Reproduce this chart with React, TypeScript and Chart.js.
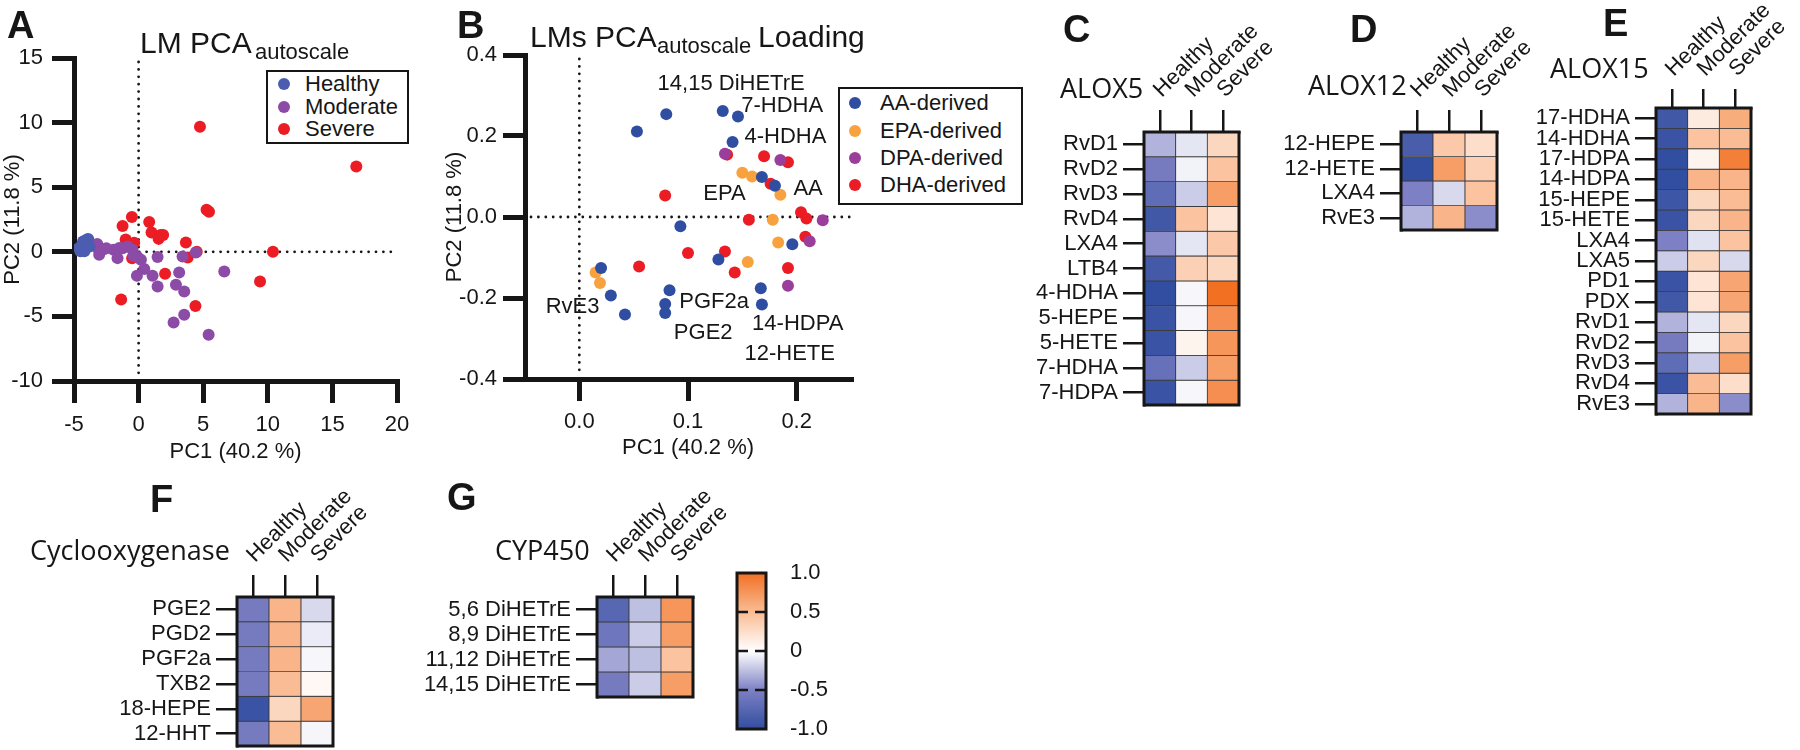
import React, { useEffect, useRef } from 'react';
import { Chart, registerables } from 'chart.js';

Chart.register(...registerables);

const FONT = "'Liberation Sans', Arial, Helvetica, sans-serif";
const HEAD_FONT = "'Open Sans', 'Noto Sans', sans-serif";
const INK = '#161616';
Chart.defaults.font.family = FONT;
Chart.defaults.color = INK;

// ---------------- Panel A: LM PCA (scores) ----------------
const scoreGroups = ['Healthy', 'Moderate', 'Severe'];
const healthyPC1 = [-4.6, -4.5, -4.4, -4.3, -4.2, -4.1, -4.0, -3.9, -4.5, -4.2, -4.0, -4.3, -3.8, -4.4];
const healthyPC2 = [0.3, 0.1, 0.5, 0.2, 0.7, 0.4, 0.95, 1.0, 0.05, 0.05, 0.6, 0.8, 0.4, 0.15];
const moderatePC1 = [-3.3, -3.05, -2.5, -1.94, -1.63, -1.24, -0.85, -0.47, -0.08, 0.18, 1.47, 3.4, 4.43, 6.63, 0.44, -0.13, 1.08, 1.47, 3.14, 2.89, 3.53, 3.53, 2.71, 5.42, -3.2, -2.7, -0.4, -1.5];
const moderatePC2 = [0.41, -0.23, 0.28, 0.15, -0.49, 0.28, 0.41, 0.15, -0.41, -0.62, -0.41, -0.36, -0.05, -1.52, -1.34, -1.86, -1.86, -2.68, -1.6, -2.55, -3.07, -4.88, -5.47, -6.42, 0.6, 0.2, -0.3, 0.3];
const severePC1 = [4.75, 16.85, 5.26, 5.45, 10.4, 9.4, 4.4, -1.35, 2.05, 3.66, 3.8, 4.5, 0.82, 1.0, 1.7, 1.9, 1.55, -0.52, -1.24, -1.0, -0.34, -0.5];
const severePC2 = [9.67, 6.6, 3.25, 3.1, 0.0, -2.3, -4.2, -3.7, -1.7, 0.72, -0.45, 0.0, 2.3, 1.5, 1.3, 1.3, 1.0, 2.7, 2.0, 0.95, 0.7, -0.5];
const scoreXTicks = [-5, 0, 5, 10, 15, 20];
const scoreYTicks = [-10, -5, 0, 5, 10, 15];

// ---------------- Panel B: loadings ----------------
const loadingGroups = ['AA-derived', 'EPA-derived', 'DPA-derived', 'DHA-derived'];
const aaPC1 = [0.053, 0.080, 0.132, 0.146, 0.141, 0.168, 0.180, 0.093, 0.196, 0.128, 0.020, 0.029, 0.042, 0.083, 0.079, 0.079, 0.167, 0.168];
const aaPC2 = [0.211, 0.254, 0.262, 0.248, 0.185, 0.099, 0.077, -0.023, -0.067, -0.105, -0.126, -0.194, -0.241, -0.181, -0.215, -0.237, -0.176, -0.216];
const epaPC1 = [0.150, 0.159, 0.185, 0.178, 0.183, 0.155, 0.015, 0.019];
const epaPC2 = [0.109, 0.100, 0.055, -0.007, -0.063, -0.111, -0.137, -0.163];
const dpaPC1 = [0.134, 0.185, 0.224, 0.212, 0.192];
const dpaPC2 = [0.156, 0.141, -0.008, -0.060, -0.170];
const dhaPC1 = [0.136, 0.170, 0.192, 0.079, 0.176, 0.204, 0.209, 0.156, 0.208, 0.134, 0.100, 0.055, 0.143, 0.192];
const dhaPC2 = [0.154, 0.150, 0.135, 0.053, 0.082, 0.012, -0.004, -0.007, -0.049, -0.085, -0.089, -0.122, -0.137, -0.126];
const loadingXTicks = [0, 0.1, 0.2];
const loadingYTicks = [-0.4, -0.2, 0, 0.2, 0.4];
const loadingLabels = ['14,15 DiHETrE', '7-HDHA', '4-HDHA', 'EPA', 'AA', 'RvE3', 'PGF2a', 'PGE2', '14-HDPA', '12-HETE'];
const loadingLabelPC1 = [0.072, 0.149, 0.152, 0.114, 0.197, -0.031, 0.092, 0.087, 0.159, 0.152];
const loadingLabelPC2 = [0.314, 0.260, 0.183, 0.043, 0.055, -0.236, -0.224, -0.300, -0.278, -0.352];

// ---------------- Heatmaps ----------------
const groups = ['Healthy', 'Moderate', 'Severe'];

const alox5Rows = ['RvD1', 'RvD2', 'RvD3', 'RvD4', 'LXA4', 'LTB4', '4-HDHA', '5-HEPE', '5-HETE', '7-HDHA', '7-HDPA'];
const alox5Healthy = [-0.3, -0.55, -0.7, -0.9, -0.45, -0.88, -1.0, -0.95, -0.95, -0.65, -0.95];
const alox5Moderate = [-0.1, -0.05, -0.2, 0.45, -0.1, 0.35, -0.03, -0.03, 0.08, -0.2, -0.03];
const alox5Severe = [0.3, 0.45, 0.7, 0.2, 0.4, 0.3, 1.0, 0.8, 0.75, 0.7, 0.8];

const alox12Rows = ['12-HEPE', '12-HETE', 'LXA4', 'RvE3'];
const alox12Healthy = [-0.85, -1.0, -0.5, -0.3];
const alox12Moderate = [0.4, 0.7, -0.15, 0.55];
const alox12Severe = [0.25, 0.35, 0.45, -0.45];

const alox15Rows = ['17-HDHA', '14-HDHA', '17-HDPA', '14-HDPA', '15-HEPE', '15-HETE', 'LXA4', 'LXA5', 'PD1', 'PDX', 'RvD1', 'RvD2', 'RvD3', 'RvD4', 'RvE3'];
const alox15Healthy = [-0.9, -0.95, -1.0, -1.0, -0.92, -0.95, -0.5, -0.2, -0.95, -0.9, -0.3, -0.55, -0.7, -0.95, -0.3];
const alox15Moderate = [0.15, 0.45, 0.08, 0.55, 0.3, 0.3, -0.12, 0.3, 0.2, 0.2, -0.1, -0.05, -0.2, 0.5, 0.55];
const alox15Severe = [0.6, 0.5, 0.9, 0.55, 0.5, 0.55, 0.45, -0.15, 0.65, 0.65, 0.3, 0.45, 0.7, 0.25, -0.45];

const coxRows = ['PGE2', 'PGD2', 'PGF2a', 'TXB2', '18-HEPE', '12-HHT'];
const coxHealthy = [-0.55, -0.55, -0.55, -0.55, -0.95, -0.55];
const coxModerate = [0.55, 0.55, 0.55, 0.5, 0.3, 0.5];
const coxSevere = [-0.15, -0.08, -0.03, 0.05, 0.65, -0.04];

const cypRows = ['5,6 DiHETrE', '8,9 DiHETrE', '11,12 DiHETrE', '14,15 DiHETrE'];
const cypHealthy = [-0.75, -0.6, -0.35, -0.55];
const cypModerate = [-0.25, -0.2, -0.25, -0.2];
const cypSevere = [0.75, 0.7, 0.45, 0.7];

const colorbarTicks = [-1, -0.5, 0, 0.5, 1];
const colorbarDashes = [-0.5, 0, 0.5];

// ---------------- styles ----------------
const HEALTHY = '#4c5db1';
const MODERATE = '#8b4ba6';
const SEVERE = '#ec1c24';
const AA = '#2f4ea2';
const EPA = '#f7a23e';
const DPA = '#9a3e9c';
const DHA = '#ec1c24';
const scoreColors = [HEALTHY, MODERATE, SEVERE];
const loadingColors = [AA, EPA, DPA, DHA];

const stops: [number, number[]][] = [
  [-1, [50, 78, 160]],
  [-0.5, [125, 128, 196]],
  [0, [255, 255, 255]],
  [0.5, [250, 188, 148]],
  [1, [241, 112, 34]],
];
function cmap(v: number) {
  const t = Math.max(-1, Math.min(1, v));
  for (let i = 0; i < stops.length - 1; i++) {
    const [a, ca] = stops[i];
    const [b, cb] = stops[i + 1];
    if (t >= a && t <= b) {
      const f = (t - a) / (b - a);
      const c = ca.map((x, k) => Math.round(x + (cb[k] - x) * f));
      return `rgb(${c[0]},${c[1]},${c[2]})`;
    }
  }
  return 'rgb(255,255,255)';
}

const baseOpts = {
  animation: false,
  responsive: false,
  devicePixelRatio: 1,
  events: [],
  plugins: { legend: { display: false }, tooltip: { enabled: false } },
};

const fix = (dim: 'width' | 'height', size: number) => (s: any) => {
  s[dim] = size;
  s.paddingLeft = 0;
  s.paddingRight = 0;
  s.paddingTop = 0;
  s.paddingBottom = 0;
};

const zeroLines = {
  id: 'zeroLines',
  beforeDatasetsDraw(chart: any) {
    const { ctx, chartArea: a, scales } = chart;
    const px = scales.x.getPixelForValue(0);
    const py = scales.y.getPixelForValue(0);
    ctx.save();
    ctx.strokeStyle = INK;
    ctx.lineWidth = 2.8;
    ctx.lineCap = 'round';
    ctx.setLineDash([0, 7.4]);
    ctx.beginPath();
    ctx.moveTo(px, a.top + 4);
    ctx.lineTo(px, a.bottom - 3);
    ctx.stroke();
    ctx.beginPath();
    ctx.moveTo(a.left + 6, py);
    ctx.lineTo(a.right, py);
    ctx.stroke();
    ctx.restore();
  },
};

const pointLabels = {
  id: 'pointLabels',
  afterDatasetsDraw(chart: any) {
    const { ctx, scales } = chart;
    ctx.save();
    ctx.font = `22px ${FONT}`;
    ctx.fillStyle = INK;
    ctx.textAlign = 'left';
    ctx.textBaseline = 'alphabetic';
    loadingLabels.forEach((t, i) => {
      ctx.fillText(t, scales.x.getPixelForValue(loadingLabelPC1[i]), scales.y.getPixelForValue(loadingLabelPC2[i]));
    });
    ctx.restore();
  },
};

const frame = {
  id: 'frame',
  afterDatasetsDraw(chart: any) {
    const { ctx, chartArea: a } = chart;
    ctx.save();
    ctx.strokeStyle = INK;
    ctx.lineWidth = 3;
    ctx.strokeRect(a.left, a.top, a.right - a.left, a.bottom - a.top);
    ctx.restore();
  },
};

// rotated column labels, anchored at the top of each column tick
const columnLabels = {
  id: 'columnLabels',
  afterDraw(chart: any) {
    const { ctx, chartArea: a, scales } = chart;
    const x = scales.x;
    const tl = x.options.grid.tickLength;
    ctx.save();
    ctx.font = `22px ${FONT}`;
    ctx.fillStyle = INK;
    ctx.textAlign = 'left';
    ctx.textBaseline = 'alphabetic';
    chart.data.labels.forEach((l: string, i: number) => {
      const px = x.getPixelForValue(i);
      ctx.save();
      ctx.translate(px + 2, a.top - tl - 12);
      ctx.rotate(-Math.PI / 4);
      ctx.fillText(l, 0, 0);
      ctx.restore();
    });
    ctx.restore();
  },
};

const cbDashes = {
  id: 'cbDashes',
  afterDatasetsDraw(chart: any) {
    const { ctx, chartArea: a, scales } = chart;
    ctx.save();
    ctx.strokeStyle = INK;
    ctx.lineWidth = 2.5;
    const w = a.right - a.left;
    const dash = (w - 7) / 2;
    ctx.setLineDash([dash, 7]);
    colorbarDashes.forEach((v) => {
      const y = scales.y.getPixelForValue(v);
      ctx.beginPath();
      ctx.moveTo(a.left, y);
      ctx.lineTo(a.right, y);
      ctx.stroke();
    });
    ctx.restore();
  },
};

function dots(label: string, xs: number[], ys: number[], color: string) {
  return {
    label,
    data: xs.map((x, i) => ({ x, y: ys[i] })),
    backgroundColor: color,
    borderColor: color,
    pointRadius: 6,
    pointBorderWidth: 0,
  };
}

function linAxis(axis: 'x' | 'y', min: number, max: number, tickVals: number[], fmt: (v: number) => string, title: string, size: number, pad: number) {
  return {
    type: 'linear',
    position: axis === 'x' ? 'bottom' : 'left',
    min,
    max,
    afterBuildTicks: (s: any) => {
      s.ticks = tickVals.map((v) => ({ value: v }));
    },
    ticks: { callback: (v: number) => fmt(v), font: { size: 22, family: FONT }, color: INK, padding: pad, autoSkip: false, maxRotation: 0 },
    grid: { drawOnChartArea: false, tickLength: 22, lineWidth: 5, color: INK },
    border: { width: 5, color: INK },
    title: { display: true, text: title, font: { size: 22, family: FONT }, color: INK, padding: 0 },
    afterFit: fix(axis === 'x' ? 'height' : 'width', size),
  };
}

const buildA = () => ({
  type: 'scatter',
  data: {
    datasets: [
      dots(scoreGroups[0], healthyPC1, healthyPC2, HEALTHY),
      dots(scoreGroups[1], moderatePC1, moderatePC2, MODERATE),
      dots(scoreGroups[2], severePC1, severePC2, SEVERE),
    ],
  },
  options: {
    ...baseOpts,
    layout: { padding: { left: 0, top: 58, right: 33, bottom: 0 } },
    scales: {
      x: linAxis('x', -5, 20, scoreXTicks, (v) => String(v), 'PC1 (40.2 %)', 84, 9),
      y: linAxis('y', -10, 15, scoreYTicks, (v) => String(v), 'PC2 (11.8 %)', 74, 9),
    },
  },
  plugins: [zeroLines],
});

const buildB = () => ({
  type: 'scatter',
  data: {
    datasets: [
      dots(loadingGroups[0], aaPC1, aaPC2, AA),
      dots(loadingGroups[1], epaPC1, epaPC2, EPA),
      dots(loadingGroups[2], dpaPC1, dpaPC2, DPA),
      dots(loadingGroups[3], dhaPC1, dhaPC2, DHA),
    ],
  },
  options: {
    ...baseOpts,
    layout: { padding: { left: 0, top: 55, right: 11, bottom: 0 } },
    scales: {
      x: linAxis('x', -0.05, 0.25, loadingXTicks, (v) => v.toFixed(1), 'PC1 (40.2 %)', 82, 8),
      y: linAxis('y', -0.4, 0.4, loadingYTicks, (v) => v.toFixed(1), 'PC2 (11.8 %)', 83, 6),
    },
  },
  plugins: [zeroLines, pointLabels],
});

function buildHeat(spec: any) {
  const { rows, healthy, moderate, severe, left, top, width, height, area, colTick } = spec;
  const [x0, y0, x1, y1] = area;
  const cols = [healthy, moderate, severe];
  return () => ({
    type: 'bar',
    data: {
      labels: groups,
      datasets: rows.map((r: string, i: number) => ({
        label: r,
        data: groups.map(() => [i, i + 1]),
        backgroundColor: cols.map((c: number[]) => cmap(c[i])),
        borderColor: '#3c3c3c',
        borderWidth: 0.8,
        borderSkipped: false,
        grouped: false,
        barPercentage: 1,
        categoryPercentage: 1,
      })),
    },
    options: {
      ...baseOpts,
      layout: { padding: { left: 0, top: 0, right: left + width - x1, bottom: top + height - y1 } },
      scales: {
        x: {
          type: 'category',
          position: 'top',
          offset: true,
          grid: { offset: false, drawOnChartArea: false, tickLength: colTick, lineWidth: 2.5, color: INK },
          border: { width: 3, color: INK },
          ticks: { display: false, autoSkip: false },
          afterFit: fix('height', y0 - top),
        },
        y: {
          type: 'linear',
          position: 'left',
          reverse: true,
          min: 0,
          max: rows.length,
          afterBuildTicks: (s: any) => {
            s.ticks = rows.map((_: string, i: number) => ({ value: i + 0.5 }));
          },
          ticks: { autoSkip: false, callback: (_v: number, i: number) => rows[i], font: { size: 22, family: FONT }, color: INK, padding: 5 },
          grid: { drawOnChartArea: false, tickLength: 21, lineWidth: 2.5, color: INK },
          border: { width: 3, color: INK },
          afterFit: fix('width', x0 - left),
        },
      },
    },
    plugins: [frame, columnLabels],
  });
}

const heatC = { rows: alox5Rows, healthy: alox5Healthy, moderate: alox5Moderate, severe: alox5Severe, left: 1010, top: 0, width: 290, height: 420, area: [1144, 132, 1239, 405], colTick: 22 };
const heatD = { rows: alox12Rows, healthy: alox12Healthy, moderate: alox12Moderate, severe: alox12Severe, left: 1270, top: 0, width: 260, height: 260, area: [1401, 132, 1497, 230], colTick: 22 };
const heatE = { rows: alox15Rows, healthy: alox15Healthy, moderate: alox15Moderate, severe: alox15Severe, left: 1530, top: 0, width: 270, height: 430, area: [1656, 108, 1751, 414], colTick: 19 };
const heatF = { rows: coxRows, healthy: coxHealthy, moderate: coxModerate, severe: coxSevere, left: 0, top: 470, width: 380, height: 280, area: [237, 597, 333, 746], colTick: 22 };
const heatG = { rows: cypRows, healthy: cypHealthy, moderate: cypModerate, severe: cypSevere, left: 410, top: 470, width: 320, height: 240, area: [597, 597, 693, 697], colTick: 22 };

const buildColorbar = () => ({
  type: 'bar',
  data: {
    labels: [''],
    datasets: [
      {
        data: [[-1, 1]],
        backgroundColor: (c: any) => {
          const ch = c.chart;
          const a = ch.chartArea;
          if (!a) return cmap(0);
          const g = ch.ctx.createLinearGradient(0, a.bottom, 0, a.top);
          for (let k = 0; k <= 20; k++) g.addColorStop(k / 20, cmap(-1 + (2 * k) / 20));
          return g;
        },
        borderWidth: 0,
        barPercentage: 1,
        categoryPercentage: 1,
      },
    ],
  },
  options: {
    ...baseOpts,
    layout: { padding: { left: 17, top: 23, right: 0, bottom: 21 } },
    scales: {
      x: { type: 'category', display: false, offset: true },
      y: {
        type: 'linear',
        position: 'right',
        min: -1,
        max: 1,
        afterBuildTicks: (s: any) => {
          s.ticks = colorbarTicks.map((v) => ({ value: v }));
        },
        ticks: { callback: (v: number) => (v === 0 ? '0' : v.toFixed(1)), font: { size: 22, family: FONT }, color: INK, padding: 24, autoSkip: false },
        grid: { drawOnChartArea: false, drawTicks: false, tickLength: 0 },
        border: { display: false },
        afterFit: fix('width', 74),
      },
    },
  },
  plugins: [frame, cbDashes],
});

function ChartCanvas({ left, top, width, height, build }: any) {
  const ref = useRef<HTMLCanvasElement | null>(null);
  useEffect(() => {
    if (!ref.current) return;
    const chart = new Chart(ref.current, build() as any);
    return () => chart.destroy();
  }, []);
  return (
    <div style={{ position: 'absolute', left, top, width, height }}>
      <canvas ref={ref} width={width} height={height} style={{ display: 'block', width, height }} />
    </div>
  );
}

function Txt({ x, base, size, family = FONT, weight = 400, children }: any) {
  const k = family === HEAD_FONT ? 0.888 : 0.8465;
  return (
    <div
      style={{
        position: 'absolute',
        left: x,
        top: base - k * size,
        fontSize: size,
        fontFamily: family,
        fontWeight: weight,
        lineHeight: 1,
        whiteSpace: 'nowrap',
        color: INK,
      }}
    >
      {children}
    </div>
  );
}

function Legend({ left, top, width, height, labels, colors, markerX, rowYs, textX }: any) {
  return (
    <div style={{ position: 'absolute', left, top, width, height, border: `2px solid ${INK}`, boxSizing: 'border-box', background: '#fff' }}>
      {labels.map((l: string, i: number) => (
        <React.Fragment key={l}>
          <div
            style={{
              position: 'absolute',
              left: markerX - left - 2 - 6,
              top: rowYs[i] - top - 2 - 6,
              width: 12,
              height: 12,
              borderRadius: 6,
              background: colors[i],
            }}
          />
          <div
            style={{
              position: 'absolute',
              left: textX - left - 2,
              top: rowYs[i] + 8 - 0.8465 * 22 - top - 2,
              fontSize: 22,
              fontFamily: FONT,
              lineHeight: 1,
              whiteSpace: 'nowrap',
              color: INK,
            }}
          >
            {l}
          </div>
        </React.Fragment>
      ))}
    </div>
  );
}

export default function App() {
  return (
    <div style={{ position: 'absolute', left: 0, top: 0, width: 1800, height: 750, background: '#fff', overflow: 'hidden' }}>
      <ChartCanvas left={0} top={0} width={430} height={465} build={buildA} />
      <ChartCanvas left={442} top={0} width={420} height={461} build={buildB} />
      <ChartCanvas left={heatC.left} top={heatC.top} width={heatC.width} height={heatC.height} build={buildHeat(heatC)} />
      <ChartCanvas left={heatD.left} top={heatD.top} width={heatD.width} height={heatD.height} build={buildHeat(heatD)} />
      <ChartCanvas left={heatE.left} top={heatE.top} width={heatE.width} height={heatE.height} build={buildHeat(heatE)} />
      <ChartCanvas left={heatF.left} top={heatF.top} width={heatF.width} height={heatF.height} build={buildHeat(heatF)} />
      <ChartCanvas left={heatG.left} top={heatG.top} width={heatG.width} height={heatG.height} build={buildHeat(heatG)} />
      <ChartCanvas left={720} top={550} width={120} height={200} build={buildColorbar} />

      <Legend left={266} top={70} width={143} height={74} labels={scoreGroups} colors={scoreColors} markerX={284} rowYs={[84, 107, 129]} textX={305} />
      <Legend left={838} top={87} width={185} height={118} labels={loadingGroups} colors={loadingColors} markerX={855} rowYs={[103, 131, 158, 185]} textX={880} />

      <Txt x={7} base={38} size={38} weight={700}>A</Txt>
      <Txt x={457} base={38} size={38} weight={700}>B</Txt>
      <Txt x={1063} base={42} size={38} weight={700}>C</Txt>
      <Txt x={1350} base={42} size={38} weight={700}>D</Txt>
      <Txt x={1603} base={36} size={38} weight={700}>E</Txt>
      <Txt x={150} base={512} size={38} weight={700}>F</Txt>
      <Txt x={447} base={510} size={38} weight={700}>G</Txt>

      <Txt x={140} base={53} size={30}>LM PCA</Txt>
      <Txt x={255} base={60} size={22}>autoscale</Txt>
      <Txt x={530} base={47} size={30}>LMs PCA</Txt>
      <Txt x={657} base={54} size={22}>autoscale</Txt>
      <Txt x={758} base={47} size={30}>Loading</Txt>

      <Txt x={1060} base={98} size={27} family={HEAD_FONT}>ALOX5</Txt>
      <Txt x={1308} base={95} size={27} family={HEAD_FONT}>ALOX12</Txt>
      <Txt x={1550} base={78} size={27} family={HEAD_FONT}>ALOX15</Txt>
      <Txt x={30} base={560} size={27} family={HEAD_FONT}>Cyclooxygenase</Txt>
      <Txt x={495} base={560} size={27} family={HEAD_FONT}>CYP450</Txt>
    </div>
  );
}
